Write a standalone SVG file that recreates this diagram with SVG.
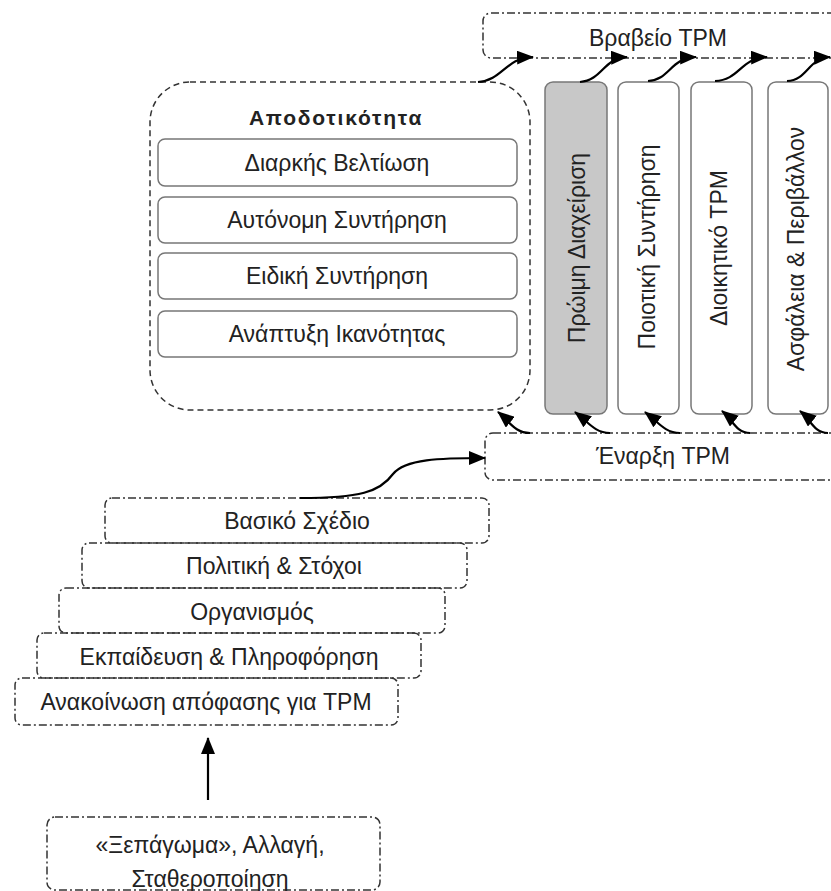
<svg xmlns="http://www.w3.org/2000/svg" width="831" height="891" viewBox="0 0 831 891">
<defs>
<style>
text{font-family:"Liberation Sans",Arial,sans-serif;font-size:23px;fill:#222;text-anchor:middle;dominant-baseline:central}
.dd{fill:none;stroke:#333;stroke-width:1.5;stroke-dasharray:8 3 2 3}
.dash{fill:none;stroke:#333;stroke-width:1.5;stroke-dasharray:6 4}
.solid{fill:#fff;stroke:#777;stroke-width:1.5}
.conn{fill:none;stroke:#000;stroke-width:2.2}
.title{font-weight:bold;font-size:21px;letter-spacing:1.8px}
</style>
<marker id="ah" markerUnits="userSpaceOnUse" markerWidth="17" markerHeight="14" refX="16" refY="7" orient="auto">
<path d="M0,0 L17,7 L0,14 z" fill="#000"/>
</marker>
</defs>
<rect width="831" height="891" fill="#fff"/>

<g id="vraveio">
<rect class="dd" x="483" y="13" width="370" height="45" rx="8"/>
<text x="658" y="38">Βραβείο TPM</text>
</g>

<g id="apodotikotita">
<rect class="dash" x="150" y="82" width="380" height="328" rx="40"/>
<text class="title" x="336" y="117">Αποδοτικότητα</text>
</g>
<g id="diarkis">
<rect class="solid" x="158" y="139" width="359" height="47" rx="7"/>
<text x="337" y="163">Διαρκής Βελτίωση</text>
</g>
<g id="autonomi">
<rect class="solid" x="158" y="197" width="359" height="46" rx="7"/>
<text x="337" y="220">Αυτόνομη Συντήρηση</text>
</g>
<g id="eidiki">
<rect class="solid" x="158" y="253" width="359" height="46" rx="7"/>
<text x="337" y="276">Ειδική Συντήρηση</text>
</g>
<g id="anaptyxi">
<rect class="solid" x="158" y="311" width="359" height="46" rx="7"/>
<text x="337" y="334">Ανάπτυξη Ικανότητας</text>
</g>

<g id="proimi">
<rect class="solid" x="545" y="82" width="62" height="332" rx="8" style="fill:#c8c8c8"/>
<text transform="translate(577,248) rotate(-90)">Πρώιμη Διαχείριση</text>
</g>
<g id="poiotiki">
<rect class="solid" x="618" y="82" width="61" height="332" rx="8"/>
<text transform="translate(647,247) rotate(-90)">Ποιοτική Συντήρηση</text>
</g>
<g id="dioikitiko">
<rect class="solid" x="691" y="82" width="61" height="332" rx="8"/>
<text transform="translate(719,248) rotate(-90)">Διοικητικό TPM</text>
</g>
<g id="asfaleia">
<rect class="solid" x="768" y="82" width="60" height="332" rx="8"/>
<text transform="translate(796,249) rotate(-90)">Ασφάλεια &amp; Περιβάλλον</text>
</g>

<g id="enarxi">
<rect class="dd" x="485" y="433" width="370" height="47" rx="8"/>
<text x="663" y="456">Έναρξη TPM</text>
</g>

<g id="vasiko">
<rect class="dd" x="105" y="498" width="384" height="45" rx="7"/>
<text x="297" y="521">Βασικό Σχέδιο</text>
</g>
<g id="politiki">
<rect class="dd" x="82" y="543" width="385" height="45" rx="7"/>
<text x="274" y="566">Πολιτική &amp; Στόχοι</text>
</g>
<g id="organismos">
<rect class="dd" x="59" y="588" width="386" height="45" rx="7"/>
<text x="252" y="612">Οργανισμός</text>
</g>
<g id="ekpaideusi">
<rect class="dd" x="37" y="633" width="384" height="45" rx="7"/>
<text x="229" y="657">Εκπαίδευση &amp; Πληροφόρηση</text>
</g>
<g id="anakoinosi">
<rect class="dd" x="15" y="678" width="383" height="47" rx="7"/>
<text x="206" y="702">Ανακοίνωση απόφασης για TPM</text>
</g>

<g id="xepagoma">
<rect class="dd" x="47" y="817" width="333" height="73" rx="8"/>
<text x="210" y="845">«Ξεπάγωμα», Αλλαγή,</text>
<text x="210" y="879">Σταθεροποίηση</text>
</g>

<g id="connectors">
<path class="conn" marker-end="url(#ah)" d="M208,800 L208,738"/>
<path class="conn" marker-end="url(#ah)" d="M300,498 C360,498 380,492 393,474 C405,459 440,458 485,458"/>
<path class="conn" marker-end="url(#ah)" d="M478,82 C503,80 505,58 533,57"/>
<path class="conn" marker-end="url(#ah)" d="M580,82 C603,80 603,58 627,57"/>
<path class="conn" marker-end="url(#ah)" d="M648,81 C670,80 670,58 696,57"/>
<path class="conn" marker-end="url(#ah)" d="M715,81 C740,80 740,58 767,57"/>
<path class="conn" marker-end="url(#ah)" d="M787,81 C808,80 808,58 830,57"/>
<path class="conn" marker-end="url(#ah)" d="M530,433 C515,433 510,422 498,412"/>
<path class="conn" marker-end="url(#ah)" d="M610,433 C595,433 588,422 575,412"/>
<path class="conn" marker-end="url(#ah)" d="M680,433 C665,433 658,422 645,412"/>
<path class="conn" marker-end="url(#ah)" d="M750,433 C736,433 733,420 722,411"/>
<path class="conn" marker-end="url(#ah)" d="M828,433 C814,433 811,420 800,411"/>
</g>
</svg>
